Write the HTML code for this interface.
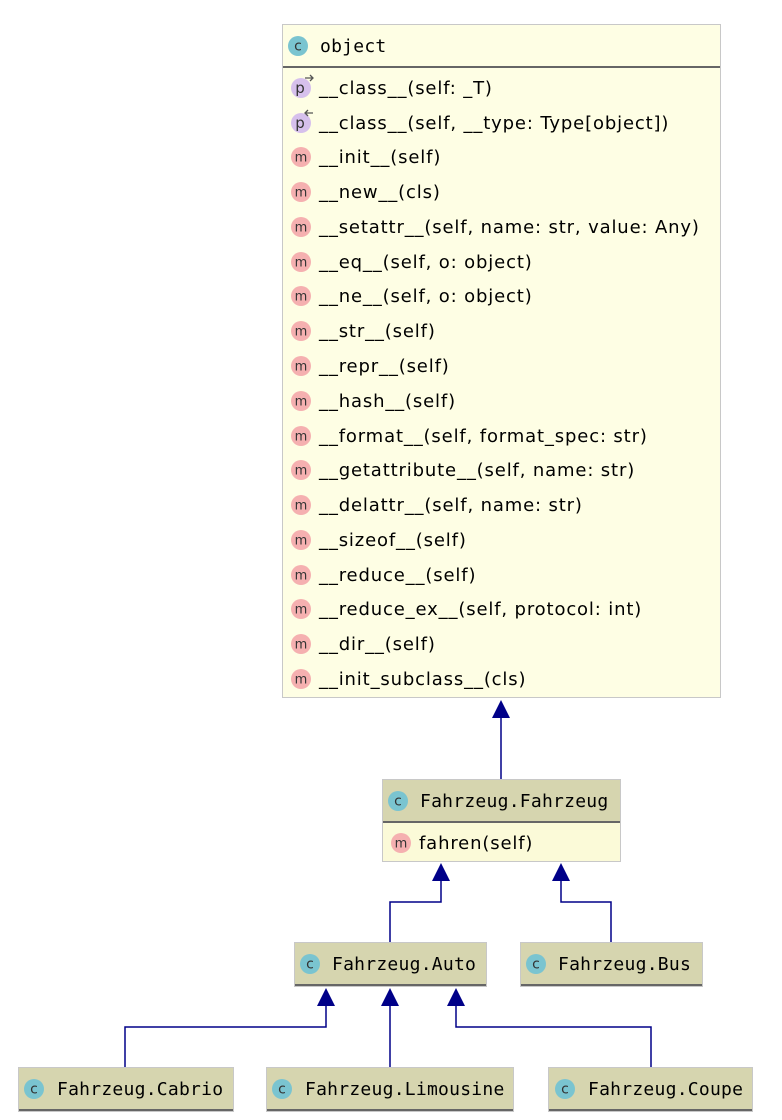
<!DOCTYPE html>
<html><head><meta charset="utf-8"><style>
html,body{margin:0;padding:0;background:#fff;width:782px;height:1120px;overflow:hidden}
svg text{font-family:"DejaVu Sans","Liberation Sans",sans-serif}
.mono{font-family:"DejaVu Sans Mono","Liberation Mono",monospace;font-size:18px;letter-spacing:0.25px}
.mem{font-size:18px;letter-spacing:0.85px}
.ic{font-family:"DejaVu Sans",sans-serif;font-size:13px;fill:#333;letter-spacing:0}
</style></head><body>
<svg width="782" height="1120" xmlns="http://www.w3.org/2000/svg">
<defs>
<g id="ci"><circle r="10" fill="#7ac4d0"/><text x="0" y="4.5" text-anchor="middle" class="ic" style="font-size:14px">c</text></g>
<g id="mi"><circle r="10" fill="#f5b0b0"/><text x="0" y="4.5" text-anchor="middle" class="ic">m</text></g>
<g id="pi"><circle r="10" fill="#d6c0ec"/><text x="-1" y="5" text-anchor="middle" class="ic" style="font-size:15px">p</text></g>
</defs>
<!-- object -->
<rect x="282.5" y="24.5" width="438" height="673" fill="#fefee4" stroke="#c8c8c8"/>
<line x1="283" y1="67" x2="720" y2="67" stroke="#666" stroke-width="2"/>
<use href="#ci" x="298" y="46"/>
<text x="320" y="52" class="mono">object</text>
<g class="mem">
<use href="#pi" x="301" y="88"/><path d="M305 78h8M310 75l3 3-3 3" stroke="#555" fill="none" stroke-width="1.3"/>
<use href="#pi" x="301" y="123"/><path d="M305 113h8M308 110l-3 3 3 3" stroke="#555" fill="none" stroke-width="1.3"/>
<text x="319" y="94">__class__(self: _T)</text>
<text x="319" y="129">__class__(self, __type: Type[object])</text>
<use href="#mi" x="301" y="157"/><text x="319" y="163">__init__(self)</text>
<use href="#mi" x="301" y="192"/><text x="319" y="198">__new__(cls)</text>
<use href="#mi" x="301" y="227"/><text x="319" y="233">__setattr__(self, name: str, value: Any)</text>
<use href="#mi" x="301" y="262"/><text x="319" y="268">__eq__(self, o: object)</text>
<use href="#mi" x="301" y="296"/><text x="319" y="302">__ne__(self, o: object)</text>
<use href="#mi" x="301" y="331"/><text x="319" y="337">__str__(self)</text>
<use href="#mi" x="301" y="366"/><text x="319" y="372">__repr__(self)</text>
<use href="#mi" x="301" y="401"/><text x="319" y="407">__hash__(self)</text>
<use href="#mi" x="301" y="436"/><text x="319" y="442">__format__(self, format_spec: str)</text>
<use href="#mi" x="301" y="470"/><text x="319" y="476">__getattribute__(self, name: str)</text>
<use href="#mi" x="301" y="505"/><text x="319" y="511">__delattr__(self, name: str)</text>
<use href="#mi" x="301" y="540"/><text x="319" y="546">__sizeof__(self)</text>
<use href="#mi" x="301" y="575"/><text x="319" y="581">__reduce__(self)</text>
<use href="#mi" x="301" y="609"/><text x="319" y="615">__reduce_ex__(self, protocol: int)</text>
<use href="#mi" x="301" y="644"/><text x="319" y="650">__dir__(self)</text>
<use href="#mi" x="301" y="679"/><text x="319" y="685">__init_subclass__(cls)</text>
</g>
<!-- Fahrzeug -->
<rect x="382.5" y="779.5" width="238" height="82" fill="#fbfad8" stroke="#c8c8c8"/>
<rect x="383" y="780" width="237" height="42" fill="#d6d5af"/>
<line x1="383" y1="822" x2="620" y2="822" stroke="#666" stroke-width="2"/>
<use href="#ci" x="398" y="801"/>
<text x="420" y="807" class="mono">Fahrzeug.Fahrzeug</text>
<use href="#mi" x="401" y="843"/><text x="419" y="849" class="mem">fahren(self)</text>
<!-- small boxes -->
<g>
<rect x="294.5" y="942.5" width="192" height="44" fill="#d6d5af" stroke="#c8c8c8"/><line x1="295" y1="985" x2="486" y2="985" stroke="#666" stroke-width="2"/>
<use href="#ci" x="310" y="964"/><text x="332" y="970" class="mono">Fahrzeug.Auto</text>
<rect x="520.5" y="942.5" width="182" height="44" fill="#d6d5af" stroke="#c8c8c8"/><line x1="521" y1="985" x2="702" y2="985" stroke="#666" stroke-width="2"/>
<use href="#ci" x="536" y="964"/><text x="558" y="970" class="mono">Fahrzeug.Bus</text>
<rect x="18.5" y="1067.5" width="215" height="44" fill="#d6d5af" stroke="#c8c8c8"/><line x1="19" y1="1110" x2="233" y2="1110" stroke="#666" stroke-width="2"/>
<use href="#ci" x="34" y="1089"/><text x="57" y="1095" class="mono">Fahrzeug.Cabrio</text>
<rect x="266.5" y="1067.5" width="247" height="44" fill="#d6d5af" stroke="#c8c8c8"/><line x1="267" y1="1110" x2="513" y2="1110" stroke="#666" stroke-width="2"/>
<use href="#ci" x="282" y="1089"/><text x="305" y="1095" class="mono">Fahrzeug.Limousine</text>
<rect x="548.5" y="1067.5" width="204" height="44" fill="#d6d5af" stroke="#c8c8c8"/><line x1="549" y1="1110" x2="752" y2="1110" stroke="#666" stroke-width="2"/>
<use href="#ci" x="565" y="1089"/><text x="588" y="1095" class="mono">Fahrzeug.Coupe</text>
</g>
<!-- connectors -->
<g stroke="#000088" stroke-width="1.5" fill="none">
<path d="M501 716V779"/>
<path d="M441 880V902H390V942"/>
<path d="M561 880V902H611V942"/>
<path d="M326 1005V1027H125V1067"/>
<path d="M390 1005V1067"/>
<path d="M456 1005V1027H651V1067"/>
</g>
<g fill="#000088">
<path d="M501 700l-9 18h18z"/>
<path d="M441 863l-9 18h18z"/>
<path d="M561 863l-9 18h18z"/>
<path d="M326 988l-9 18h18z"/>
<path d="M390 988l-9 18h18z"/>
<path d="M456 988l-9 18h18z"/>
</g>
</svg>
</body></html>
